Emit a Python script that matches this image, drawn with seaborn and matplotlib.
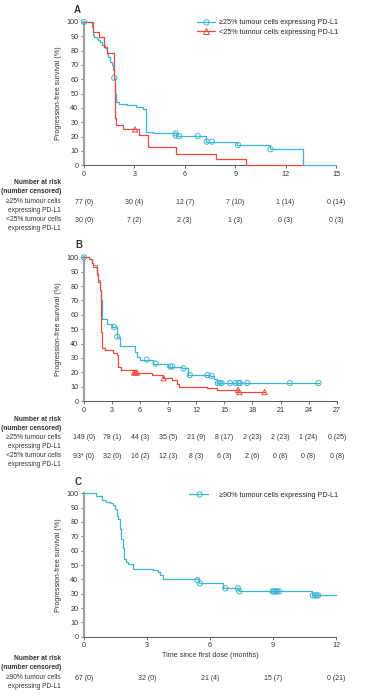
import numpy as np
import matplotlib
matplotlib.use("Agg")
import matplotlib.pyplot as plt
import matplotlib.transforms as mtrans
from matplotlib.lines import Line2D
import seaborn as sns

# ---- data ----
# panel A
a_hi_t = [0, 0.46, 0.52, 0.56, 0.6, 0.75, 0.85, 0.95, 1.05, 1.25, 1.35, 1.45, 1.55, 1.65, 1.74,
          1.78, 1.87, 1.92, 2.1, 2.54, 3.1, 3.5, 3.67, 4.1, 5.5, 7.24, 9.1, 11.05, 13.06, 15]
a_hi_s = [100, 96.7, 94.4, 91, 89.7, 88.6, 87.5, 86.2, 84, 81.6, 78, 75.8, 72.3, 70, 66.5,
          61, 50, 44, 43, 42, 41, 39.5, 23, 22.3, 20.4, 16.5, 14.2, 11.2, 0, 0]
a_hi_cens_t = [0, 1.8, 5.46, 5.46, 5.67, 6.77, 7.3, 7.62, 9.17, 11.1]
a_hi_cens_s = [100, 61, 22.3, 20.8, 20.4, 20.4, 16.5, 16.5, 14.2, 11.2]
a_lo_t = [0, 0.56, 0.91, 1.19, 1.39, 1.8, 1.84, 1.87, 1.93, 2.3, 3.27, 3.79, 5.5, 7.84, 9.64, 13.0]
a_lo_s = [100, 93.3, 89.7, 82.8, 78.6, 60, 55, 33, 28, 25, 21, 12.5, 7.7, 4.2, 0, 0]
a_lo_cens_t = [3.04]
a_lo_cens_s = [25]

# panel B
b_hi_t = [0, 0.57, 0.82, 1.0, 1.35, 1.47, 1.71, 1.82, 1.9, 1.96, 2.42, 2.96, 3.5, 3.85, 5.45,
          5.63, 5.98, 7.4, 9.0, 10.43, 11.15, 13.5, 13.9, 14.25, 25.1]
b_hi_s = [100, 98.5, 95.7, 94.6, 88.9, 84, 77, 70, 62, 57, 53.4, 51.5, 44.8, 38.3, 34.3,
          30.8, 28.8, 26, 24, 22.7, 18.1, 17.5, 15.5, 12.5, 12.5]
b_hi_cens_t = [0, 3.2, 3.56, 6.7, 7.66, 9.2, 9.45, 10.62, 11.3, 13.2, 13.6, 14.3, 14.5, 14.7,
               15.6, 16.2, 16.5, 16.67, 17.45, 22.0, 25.05]
b_hi_cens_s = [100, 51.5, 44.8, 28.8, 26, 24, 24, 22.7, 18.1, 18.1, 17.5, 12.5, 12.5, 12.5,
               12.5, 12.5, 12.5, 12.5, 12.5, 12.5, 12.5]
b_lo_t = [0, 0.57, 0.82, 1.0, 1.35, 1.47, 1.71, 1.82, 1.86, 1.9, 2.24, 3.13, 3.5, 3.67, 3.92,
          5.3, 7.23, 8.4, 9.4, 9.9, 10.1, 13.1, 14.2, 16.5, 19.3]
b_lo_s = [100, 98.5, 95.7, 93.5, 88, 83, 77, 70, 48, 37, 35.5, 33.6, 32, 24, 21.6,
          19.8, 18.1, 15.8, 14.5, 12, 10, 8.8, 7.7, 6.2, 6.2]
b_lo_cens_t = [5.35, 5.5, 5.65, 8.5, 16.45, 16.6, 19.3]
b_lo_cens_s = [19.8, 19.8, 19.8, 15.8, 7.7, 6.2, 6.2]

# panel C
c_t = [0, 0.57, 0.84, 1.05, 1.24, 1.4, 1.48, 1.56, 1.63, 1.71, 1.78, 1.84, 1.9, 2.0, 2.1,
       2.35, 3.3, 3.54, 3.62, 3.75, 5.48, 6.6, 7.37, 10.84, 12]
c_s = [100, 98, 95, 94, 93, 92, 89, 84, 82, 75, 68, 62, 54, 52, 51,
       47.5, 46.5, 45, 43, 40, 37.2, 33.7, 31.6, 28.8, 28.8]
c_cens_t = [5.4, 5.52, 6.73, 7.33, 7.4, 8.98, 9.05, 9.12, 9.2, 9.3, 10.9, 11.0, 11.08, 11.15]
c_cens_s = [39.5, 37.2, 33.7, 33.7, 31.6, 31.6, 31.6, 31.6, 31.6, 31.6, 28.8, 28.8, 28.8, 28.8]

# number at risk tables
a_ticks = [0, 3, 6, 9, 12, 15]
a_risk_hi = ["77 (0)", "30 (4)", "12 (7)", "7 (10)", "1 (14)", "0 (14)"]
a_risk_lo = ["30 (0)", "7 (2)", "2 (3)", "1 (3)", "0 (3)", "0 (3)"]
b_ticks = [0, 3, 6, 9, 12, 15, 18, 21, 24, 27]
b_risk_hi = ["149 (0)", "78 (1)", "44 (3)", "35 (5)", "21 (9)", "8 (17)", "2 (23)", "2 (23)", "1 (24)", "0 (25)"]
b_risk_lo = ["93* (0)", "32 (0)", "16 (2)", "12 (3)", "8 (3)", "6 (3)", "2 (6)", "0 (8)", "0 (8)", "0 (8)"]
c_ticks = [0, 3, 6, 9, 12]
c_risk = ["67 (0)", "32 (0)", "21 (4)", "15 (7)", "0 (21)"]

lab_hi = "\u226525% tumour cells\nexpressing PD-L1"
lab_lo = "<25% tumour cells\nexpressing PD-L1"
lab_90 = "\u226590% tumour cells\nexpressing PD-L1"

CYAN = "#3db4d3"
RED = "#ec4a3f"
TXT = "#333333"

sns.set_style("ticks")
plt.rcParams["font.family"] = ["Liberation Sans", "DejaVu Sans"]
plt.rcParams["font.size"] = 5.2

W, H = 375, 700
fig = plt.figure(figsize=(W / 100, H / 100), dpi=100)


def px_ax(left, right, top, bottom):
    return fig.add_axes([left / W, 1 - bottom / H, (right - left) / W, (bottom - top) / H])


def style(ax, xmax, ticks):
    ax.set_xlim(0, xmax)
    ax.set_ylim(0, 100)
    ax.set_xticks(ticks)
    ax.set_yticks(range(0, 101, 10))
    sns.despine(ax=ax)
    ax.spines["left"].set_color("#a0a0a0")
    ax.spines["left"].set_linewidth(1.6)
    ax.spines["bottom"].set_color("#555555")
    ax.spines["bottom"].set_linewidth(0.7)
    ax.tick_params(axis="both", length=2.5, width=0.6, color="#555555",
                   labelsize=5.2, labelcolor=TXT, pad=1.5)
    ax.set_ylabel("Progression-free survival (%)", fontsize=5.2, color=TXT, labelpad=3)
    ax.set_xlabel("")


def curve(ax, t, s, cens_t, cens_s, color, marker):
    sns.lineplot(x=t, y=s, ax=ax, color=color, lw=0.9, drawstyle="steps-post",
                 estimator=None, sort=False, clip_on=False, zorder=3)
    sns.scatterplot(x=cens_t, y=cens_s, ax=ax, marker=marker, s=14, fc="none",
                    ec=color, linewidth=0.7, clip_on=False, zorder=4)


def risk_row(ax, ticks, vals, ypx):
    tr = mtrans.blended_transform_factory(ax.transData, fig.transFigure)
    for x, v in zip(ticks, vals):
        ax.text(x, 1 - ypx / H, v, transform=tr, ha="center", va="center",
                fontsize=5.0, color=TXT, clip_on=False)


def row_label(text, ypx, bold=False):
    fig.text(61 / W, 1 - ypx / H, text, ha="right", va="top", fontsize=4.8,
             color=TXT, fontweight="bold" if bold else "normal", linespacing=1.45)


# ---- panel A ----
axA = px_ax(84, 336, 22, 165.3)
curve(axA, a_hi_t, a_hi_s, a_hi_cens_t, a_hi_cens_s, CYAN, "o")
curve(axA, a_lo_t, a_lo_s, a_lo_cens_t, a_lo_cens_s, RED, "^")
style(axA, 15, a_ticks)
hA = [Line2D([], [], color=CYAN, lw=0.9, marker="o", mfc="none", ms=3.8, mew=0.7),
      Line2D([], [], color=RED, lw=0.9, marker="^", mfc="none", ms=3.8, mew=0.7)]
axA.legend(hA, ["\u226525% tumour cells expressing PD-L1", "<25% tumour cells expressing PD-L1"],
           loc="upper right", bbox_to_anchor=(1.02, 1.04), frameon=False, fontsize=5.2,
           handlelength=2.6, handletextpad=0.5, labelspacing=0.35, borderaxespad=0)
fig.text(74 / W, 1 - 10 / H, "A", fontsize=7, fontweight="bold", color=TXT, va="center")
row_label("Number at risk\n(number censored)", 179, bold=True)
row_label(lab_hi, 198)
row_label(lab_lo, 216)
risk_row(axA, a_ticks, a_risk_hi, 202)
risk_row(axA, a_ticks, a_risk_lo, 220)

# ---- panel B ----
axB = px_ax(84, 336.7, 257.3, 401)
curve(axB, b_hi_t, b_hi_s, b_hi_cens_t, b_hi_cens_s, CYAN, "o")
curve(axB, b_lo_t, b_lo_s, b_lo_cens_t, b_lo_cens_s, RED, "^")
style(axB, 27, b_ticks)
fig.text(75 / W, 1 - 245 / H, "B", fontsize=7, fontweight="bold", color=TXT, va="center")
row_label("Number at risk\n(number censored)", 416, bold=True)
row_label(lab_hi, 434)
row_label(lab_lo, 452)
risk_row(axB, b_ticks, b_risk_hi, 438)
risk_row(axB, b_ticks, b_risk_lo, 456)

# ---- panel C ----
axC = px_ax(84, 336, 493.3, 636.7)
curve(axC, c_t, c_s, c_cens_t, c_cens_s, CYAN, "o")
style(axC, 12, c_ticks)
axC.set_xlabel("Time since first dose (months)", fontsize=5.2, color=TXT, labelpad=2)
hC = [Line2D([], [], color=CYAN, lw=0.9, marker="o", mfc="none", ms=3.8, mew=0.7)]
axC.legend(hC, ["\u226590% tumour cells expressing PD-L1"], loc="upper right",
           bbox_to_anchor=(1.02, 1.03), frameon=False, fontsize=5.2,
           handlelength=2.6, handletextpad=1.5, borderaxespad=0)
fig.text(75 / W, 1 - 482 / H, "C", fontsize=7, fontweight="bold", color=TXT, va="center")
row_label("Number at risk\n(number censored)", 655, bold=True)
row_label(lab_90, 674)
risk_row(axC, c_ticks, c_risk, 678)

fig.savefig("out.png", dpi=100)
